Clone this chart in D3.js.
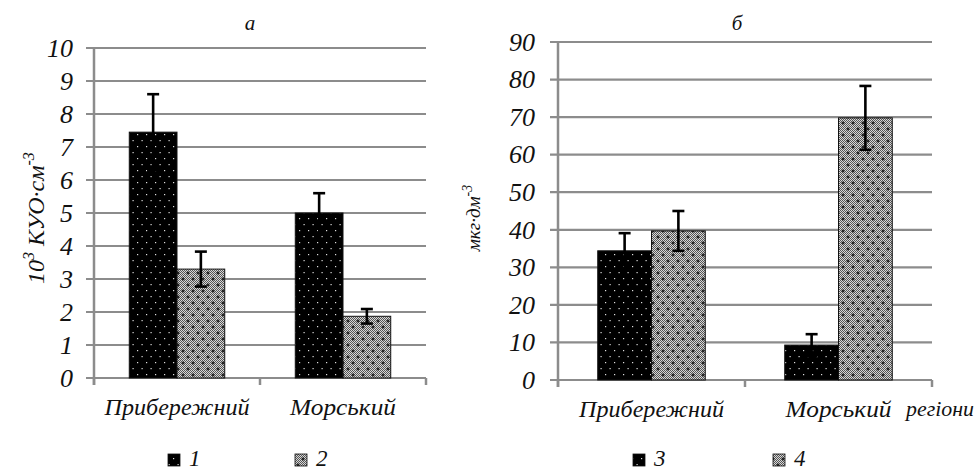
<!DOCTYPE html>
<html>
<head>
<meta charset="utf-8">
<title></title>
<script src="https://cdnjs.cloudflare.com/ajax/libs/d3/7.8.5/d3.min.js"></script>
<style>
  body { margin: 0; background: #fff; }
</style>
</head>
<body>
<div id="chart"></div>
<script>
// data
var categories = ["Прибережний", "Морський"];

var seriesA = ["1", "2"];
var valuesA1 = [7.45, 5.0];
var errorsA1 = [1.15, 0.6];
var valuesA2 = [3.3, 1.87];
var errorsA2 = [0.53, 0.22];
var ticksA = [0, 1, 2, 3, 4, 5, 6, 7, 8, 9, 10];

var seriesB = ["3", "4"];
var valuesB3 = [34.4, 9.3];
var errorsB3 = [4.7, 2.9];
var valuesB4 = [39.7, 69.8];
var errorsB4 = [5.3, 8.5];
var ticksB = [0, 10, 20, 30, 40, 50, 60, 70, 80, 90];

var w = 978, h = 471;
var FONT = "Liberation Serif";

var svg = d3.select("#chart").append("svg")
    .attr("width", w)
    .attr("height", h)
    .attr("font-family", FONT)
    .attr("font-style", "italic");

function txt(sel) {
  return sel.append("text").attr("font-family", FONT).attr("font-style", "italic").attr("fill", "#111");
}

// fill patterns: black with white dots, grey checker with black crosses
var defs = svg.append("defs");
var dots = defs.append("pattern").attr("id", "dots")
    .attr("patternUnits", "userSpaceOnUse").attr("width", 9).attr("height", 12);
dots.append("rect").attr("width", 9).attr("height", 12).attr("fill", "#000");
dots.append("rect").attr("x", 2).attr("y", 2).attr("width", 1.2).attr("height", 1.2).attr("fill", "#ddd");
dots.append("rect").attr("x", 6.5).attr("y", 8).attr("width", 1.2).attr("height", 1.2).attr("fill", "#ddd");

var chk = defs.append("pattern").attr("id", "chk")
    .attr("patternUnits", "userSpaceOnUse").attr("width", 2).attr("height", 2);
chk.append("rect").attr("width", 2).attr("height", 2).attr("fill", "#d8d8d8");
chk.append("rect").attr("width", 1).attr("height", 1).attr("fill", "#555");
chk.append("rect").attr("x", 1).attr("y", 1).attr("width", 1).attr("height", 1).attr("fill", "#555");

var cross = defs.append("pattern").attr("id", "cross")
    .attr("patternUnits", "userSpaceOnUse").attr("width", 10).attr("height", 12);
cross.append("rect").attr("width", 10).attr("height", 12).attr("fill", "url(#chk)");
[[3, 3], [8, 9]].forEach(function (p) {
  cross.append("path")
      .attr("d", "M" + (p[0] - 1.5) + "," + p[1] + "h3M" + p[0] + "," + (p[1] - 1.5) + "v3")
      .attr("stroke", "#000").attr("stroke-width", 1);
});

var fills = ["url(#dots)", "url(#cross)"];

function panel(opt) {
  var x = d3.scaleBand().domain(categories).range([opt.x0, opt.x1])
      .paddingInner(0.425).paddingOuter(0.2125);
  var xs = d3.scaleBand().domain(opt.series).range([0, x.bandwidth()]);
  var y = d3.scaleLinear().domain(opt.domain).range([opt.y0, opt.y1]);

  var g = svg.append("g");

  // gridlines
  g.selectAll(".grid").data(opt.ticks).enter().append("line")
      .attr("x1", opt.x0 - 8).attr("x2", opt.x1)
      .attr("y1", function (d) { return y(d); })
      .attr("y2", function (d) { return y(d); })
      .attr("stroke", "#8c8c8c").attr("stroke-width", 2.2);

  // tick labels
  var ax = g.append("g").attr("transform", "translate(" + opt.x0 + ",0)")
      .call(d3.axisLeft(y).tickValues(opt.ticks).tickSize(0).tickPadding(opt.pad));
  ax.attr("font-family", FONT).attr("font-size", 26);
  ax.select(".domain").remove();
  ax.selectAll("text")
      .attr("font-family", FONT).attr("font-style", "italic")
      .attr("font-size", 26).attr("fill", "#111");

  // axis lines
  g.append("line").attr("x1", opt.x0).attr("x2", opt.x0)
      .attr("y1", opt.y1).attr("y2", opt.y0 + 7)
      .attr("stroke", "#8c8c8c").attr("stroke-width", 2.5);
  var edges = [opt.x0, opt.x0 + x.step(), opt.x1];
  g.selectAll(".ct").data(edges).enter().append("line")
      .attr("x1", function (d) { return d; }).attr("x2", function (d) { return d; })
      .attr("y1", opt.y0).attr("y2", opt.y0 + 7)
      .attr("stroke", "#8c8c8c").attr("stroke-width", 2.5);

  // bars
  opt.series.forEach(function (s, si) {
    var vals = opt.values[si], errs = opt.errors[si];
    g.selectAll(".bar" + si).data(vals).enter().append("rect")
        .attr("x", function (d, i) { return x(categories[i]) + xs(s); })
        .attr("y", function (d) { return y(d); })
        .attr("width", xs.bandwidth())
        .attr("height", function (d) { return y(0) - y(d); })
        .attr("fill", fills[si])
        .attr("stroke", "#111").attr("stroke-width", 1);

    // error bars
    vals.forEach(function (v, i) {
      var cx = x(categories[i]) + xs(s) + xs.bandwidth() / 2;
      var eb = g.append("g").attr("stroke", "#000").attr("stroke-width", 2.6);
      eb.append("line").attr("x1", cx).attr("x2", cx)
          .attr("y1", y(v - errs[i])).attr("y2", y(v + errs[i]));
      eb.append("line").attr("x1", cx - 6).attr("x2", cx + 6)
          .attr("y1", y(v + errs[i])).attr("y2", y(v + errs[i]));
      eb.append("line").attr("x1", cx - 6).attr("x2", cx + 6)
          .attr("y1", y(v - errs[i])).attr("y2", y(v - errs[i]));
    });
  });

  // category labels
  categories.forEach(function (c, i) {
    txt(g).attr("x", x(c) + x.bandwidth() / 2)
        .attr("y", opt.y0 + 37)
        .attr("text-anchor", "middle")
        .attr("font-size", 23)
        .attr("textLength", i == 0 ? 145 : 106)
        .attr("lengthAdjust", "spacingAndGlyphs")
        .text(c);
  });

  // title
  txt(g).attr("x", opt.titleX).attr("y", 30)
      .attr("text-anchor", "middle").attr("font-size", 21).text(opt.title);

  // legend
  opt.series.forEach(function (s, si) {
    var lx = opt.legendX[si];
    g.append("rect").attr("x", lx).attr("y", 454).attr("width", 12).attr("height", 12)
        .attr("fill", fills[si]).attr("stroke", "#111").attr("stroke-width", 0.8);
    txt(g).attr("x", lx + 21).attr("y", 466).attr("font-size", 23).text(s);
  });
}

panel({
  x0: 94, x1: 426, y0: 378, y1: 48, domain: [0, 10], ticks: ticksA, pad: 21,
  series: seriesA, values: [valuesA1, valuesA2], errors: [errorsA1, errorsA2],
  title: "а", titleX: 250, legendX: [168, 295]
});

panel({
  x0: 558, x1: 932, y0: 380, y1: 42, domain: [0, 90], ticks: ticksB, pad: 23,
  series: seriesB, values: [valuesB3, valuesB4], errors: [errorsB3, errorsB4],
  title: "б", titleX: 737, legendX: [633, 773]
});

// y axis titles
var ta = txt(svg).attr("transform", "translate(44,218) rotate(-90)")
    .attr("text-anchor", "middle").attr("font-size", 24);
ta.append("tspan").text("10");
ta.append("tspan").attr("dy", -10).attr("font-size", 16).text("3");
ta.append("tspan").attr("dy", 10).text(" КУО·см");
ta.append("tspan").attr("dy", -10).attr("font-size", 16).text("-3");

var tb = txt(svg).attr("transform", "translate(480,218) rotate(-90)")
    .attr("text-anchor", "middle").attr("font-size", 19);
tb.append("tspan").text("мкг·дм");
tb.append("tspan").attr("dy", -8).attr("font-size", 14).text("-3");

txt(svg).attr("x", 940).attr("y", 416).attr("text-anchor", "middle")
    .attr("font-size", 21).attr("textLength", 68).attr("lengthAdjust", "spacingAndGlyphs")
    .text("регіони");
</script>
</body>
</html>
